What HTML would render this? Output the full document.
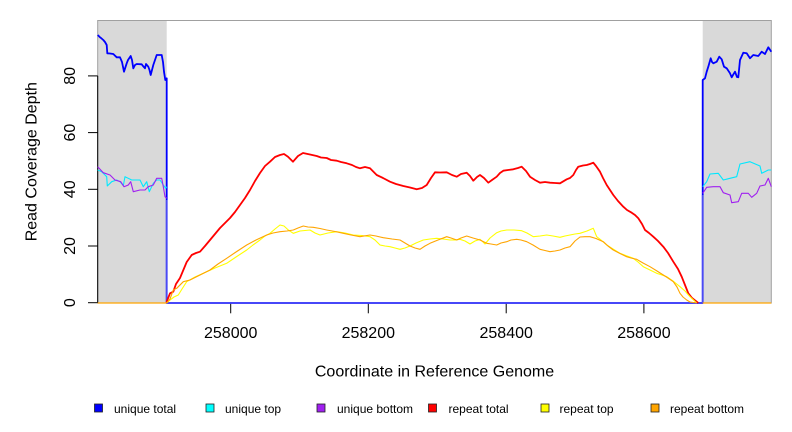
<!DOCTYPE html>
<html>
<head>
<meta charset="utf-8">
<style>
  html, body { margin: 0; padding: 0; background: #ffffff; }
  svg { display: block; }
  text { font-family: "Liberation Sans", Arial, sans-serif; fill: #000; }
</style>
</head>
<body>
<svg width="792" height="432" viewBox="0 0 792 432" xmlns="http://www.w3.org/2000/svg">
  <rect x="0" y="0" width="792" height="432" fill="#ffffff"/>

  <!-- shaded flank regions -->
  <rect x="97.7" y="20.5" width="69" height="282.5" fill="#d9d9d9"/>
  <rect x="702.7" y="20.5" width="68.6" height="282.5" fill="#d9d9d9"/>
  <!-- region border -->
  <rect x="97.7" y="20.5" width="673.6" height="282.5" fill="none" stroke="#a0a0a0" stroke-width="1"/>

  <!-- y axis -->
  <line x1="97.7" y1="75.9" x2="97.7" y2="302.7" stroke="#000" stroke-width="1"/>
  <g stroke="#000" stroke-width="1">
    <line x1="88" y1="302.7" x2="97.7" y2="302.7"/>
    <line x1="88" y1="246" x2="97.7" y2="246"/>
    <line x1="88" y1="189.3" x2="97.7" y2="189.3"/>
    <line x1="88" y1="132.6" x2="97.7" y2="132.6"/>
    <line x1="88" y1="75.9" x2="97.7" y2="75.9"/>
  </g>
  <g font-size="16" text-anchor="middle">
    <text transform="translate(75,302.7) rotate(-90)">0</text>
    <text transform="translate(75,246) rotate(-90)">20</text>
    <text transform="translate(75,189.3) rotate(-90)">40</text>
    <text transform="translate(75,132.6) rotate(-90)">60</text>
    <text transform="translate(75,75.9) rotate(-90)">80</text>
    <text transform="translate(36.5,161.7) rotate(-90)">Read Coverage Depth</text>
  </g>

  <!-- x axis -->
  <g stroke="#000" stroke-width="1">
    <line x1="230.7" y1="303" x2="230.7" y2="313.3"/>
    <line x1="368.3" y1="303" x2="368.3" y2="313.3"/>
    <line x1="506.2" y1="303" x2="506.2" y2="313.3"/>
    <line x1="643.9" y1="303" x2="643.9" y2="313.3"/>
  </g>
  <g font-size="16" text-anchor="middle">
    <text x="230.7" y="338">258000</text>
    <text x="368.3" y="338">258200</text>
    <text x="506.2" y="338">258400</text>
    <text x="643.9" y="338">258600</text>
    <text x="434.5" y="376.7">Coordinate in Reference Genome</text>
  </g>

  <g fill="none" stroke-linejoin="round" stroke-linecap="butt">
    <!-- unique total -->
    <polyline stroke="#0000ff" stroke-width="1.8" points="97.7,35 100,37.3 101,38 103.3,40 105,42 106.7,45 107.3,53.3 110,53.5 113.3,54 116.7,57.3 120,57.3 122,62 124,71.7 126.7,63.3 128,60 130.7,56 132,60 133.3,68.3 135,65 136.7,64 141.7,64.3 143,66 145,68.3 146,64 148.3,66.7 149.5,70 150.7,75 152,70 153.3,65 155,60 156.7,55 161.7,55 163,62 164,71.7 165.3,80 166.7,78.3 166.7,303 702.7,303 702.7,80 705,78.3 706.7,71.7 708.3,66.7 710.7,58.3 712,62 713.3,63.3 716.7,61.7 719.3,56.7 721.7,59.3 724,66.7 726.7,68.3 730,73.3 731.7,77.3 733,75 735,71.7 737,77 738.3,77.3 740,60 743.3,52.7 746.7,53.3 750,58.3 753.3,55 758.3,56 761.7,51.7 765,54 768.3,47.3 771.3,51.7"/>
    <!-- unique top -->
    <polyline stroke="#00e8ff" stroke-width="1.1" points="97.7,170 101.7,171.7 104,174 106.7,176.7 107.3,186 111.7,181.7 116.7,180 120,181.7 123.3,185.7 125,176.7 131.7,180 140,180 143.3,186.7 146.7,181.7 149.3,191.7 153.3,183.3 156.7,180 160,180 163.3,185 165.7,188.3 166.7,186.7"/>
    <polyline stroke="#00e8ff" stroke-width="1.1" points="702.7,186.7 706.7,181.7 710,174 718.3,173.3 723.3,180 730,178.3 736.7,176.7 740,164 750,161.7 760,166 761.7,173.3 768.3,170 771.3,170"/>
    <!-- unique bottom -->
    <polyline stroke="#a020f0" stroke-width="1.1" points="97.7,166.7 103.3,172.7 110,175 115,180 120.7,181.7 124,186.7 128.3,185 130.7,181.7 133.3,191.7 140,190 145,190 148.3,186.7 153.3,185 156.7,178.3 161.7,178.3 163.3,186.7 165,196.7 166.7,198.3"/>
    <polyline stroke="#a020f0" stroke-width="1.1" points="702.7,193.3 706.7,187.3 713.3,186.7 720,186.7 723.3,192.7 730,195 731.7,202.7 738.3,201.7 741.7,193.3 748.3,193.3 751.7,197.3 756.7,193.3 760,186 765,185 768.3,178.3 771.3,186.7"/>
    <!-- zero line / verticals in blue tint -->
    <polyline stroke="#4a4af5" stroke-width="1.6" points="166.7,200 166.7,303 702.7,303 702.7,195"/>

    <!-- repeat total -->
    <polyline stroke="#ff0000" stroke-width="1.8" points="166.7,303 166.7,301.7 170,293.3 173.3,291.7 176,284 180,278 186.7,262 191.7,255 196,253 200,251.7 205,246 210,240 215,234 220,228 225,223 230,218 235,212 240,205 245,198 250,190 255,181 260,173 265,166 270,161.7 275,157 280,155 284,154 288,156.7 293,161.7 298,156 303,153 310,154.5 316.7,156 321,157.5 326.7,158 331,160 336.7,160.7 341,162 346.7,163.3 352,165 356,167 360,168.3 365,167 370,168.3 376.7,175 383,178 390,181.7 396,184 403.3,186 410,187.5 416.7,189.3 422,188 426.7,185 431,178 435,172.3 440,172.5 446.7,172.3 452,175 456.7,176.7 461,174 466.7,172.7 470,176 473.3,180.7 477,177 480,175 484,178 488.3,182.7 492,180 496.7,176.7 500,173 503.3,170.7 508,170 513.3,169.3 518,168 521.7,166.7 526,171 530,176.7 535,180 540,182.7 545,182 550,182.7 555,183 560,183.3 566.7,179.3 570,178 573.3,175 576,170 578.3,166.7 583,165.5 586.7,165 590,164 593.3,162.7 596,166 600,171.7 603,178 606.7,185 610,190 613.3,195 618,201 623.3,206.7 627,210 631.7,212.7 635,215 638.3,218.3 642,224 645,230 649,233 653.3,236.7 658,241 663.3,246.7 668,253 673.3,261.7 678,269 681.7,276.7 685,285 688.3,293.3 692,298 696.7,301.7 698.3,303"/>
    <!-- repeat top -->
    <polyline stroke="#ffff00" stroke-width="1.1" points="166.7,303 170,300 174,297 178.3,295 182,289 186.7,281.7 195,277 203.3,273.3 215,268 226.7,263.3 236,257 246.7,250 253,245 260,240 265,236 270,233.3 275,229 280,225 284,226 288.3,230 293.3,233.3 300,231 310,230 315,233 320,235 328,233 336.7,231.7 345,233 353.3,235 362,235.5 370,236.7 375,240 380,245 385,246 390,246.7 395,248 400,249.3 405,248 410,246 416,243 423.3,240 430,239 436.7,238.3 443,239 450,240 455,240 460,239.3 465,241 470,244 475,241 480,239.3 483,242 485,244 490,238 496.7,232.7 501,231 506.7,230 514,230 521.7,230.7 527,233 533.3,236.7 540,236 546.7,235 553,236 560,237.3 565,236 570,235 575,234 580,233.3 587,231 593.3,228.3 596.7,236.7 601,240 606.7,245 613,249 620,253.3 627,256 633.3,258.3 638,262 643.3,266.7 650,270 656.7,273.3 662,275 666.7,276.7 673,281 680,286.7 685,291 690,296.7 696.7,303"/>
    <!-- repeat bottom -->
    <polyline stroke="#ffa500" stroke-width="1.1" points="166.7,303 170,299 173.3,290 176.7,288.3 183.3,281.7 190,280 200,275 210,270 218,264 226.7,258.3 236,252 246.7,245 256,240 266.7,235 273,233 280,231.7 287,231 293.3,230 298,228 303.3,226 308,227 313.3,227.3 320,228.5 326.7,230 335,231.5 343.3,233.3 351,235 360,236.7 370,235 376,236 383.3,237.7 392,239 400,240 405,243 410,246 415,248 420,249.3 425,246 430,243.3 438,240 446.7,236.7 451,238 456.7,240 461,238 466.7,236 473,238 480,240 486.7,243.3 491,244 496.7,245 501,243 506.7,241.7 511,240 516.7,239.3 521,240 526.7,241.7 533,245 540,249.3 545,250.5 550,251.7 555,251 560,250 565,248 570,246.7 575,241 580,237 585,236.7 590,236.7 596,238.5 603.3,241.7 608,246 613.3,250 620,253.5 626.7,256.7 631,258 636.7,259.3 643,263 650,266.7 657,271 663.3,275 668,278 673.3,281.7 677,287 680,293.3 683,297 686.7,300 690,302 696.7,303"/>
    <!-- repeat zero on flanks -->
    <line x1="97.7" y1="303" x2="166.7" y2="303" stroke="#ffa500" stroke-width="1.2"/>
    <line x1="702.7" y1="303" x2="771.3" y2="303" stroke="#ffa500" stroke-width="1.2"/>
  </g>

  <!-- legend -->
  <g stroke="#222" stroke-width="0.8">
    <rect x="94.5" y="404" width="8" height="8" fill="#0000ff"/>
    <rect x="206" y="404" width="8" height="8" fill="#00ffff"/>
    <rect x="317" y="404" width="8" height="8" fill="#a020f0"/>
    <rect x="428.5" y="404" width="8" height="8" fill="#ff0000"/>
    <rect x="541" y="404" width="8" height="8" fill="#ffff00"/>
    <rect x="651" y="404" width="8" height="8" fill="#ffa500"/>
  </g>
  <g font-size="12">
    <text x="114" y="413">unique total</text>
    <text x="225" y="413">unique top</text>
    <text x="337" y="413">unique bottom</text>
    <text x="448.5" y="413">repeat total</text>
    <text x="559.5" y="413">repeat top</text>
    <text x="670" y="413">repeat bottom</text>
  </g>
</svg>
</body>
</html>
